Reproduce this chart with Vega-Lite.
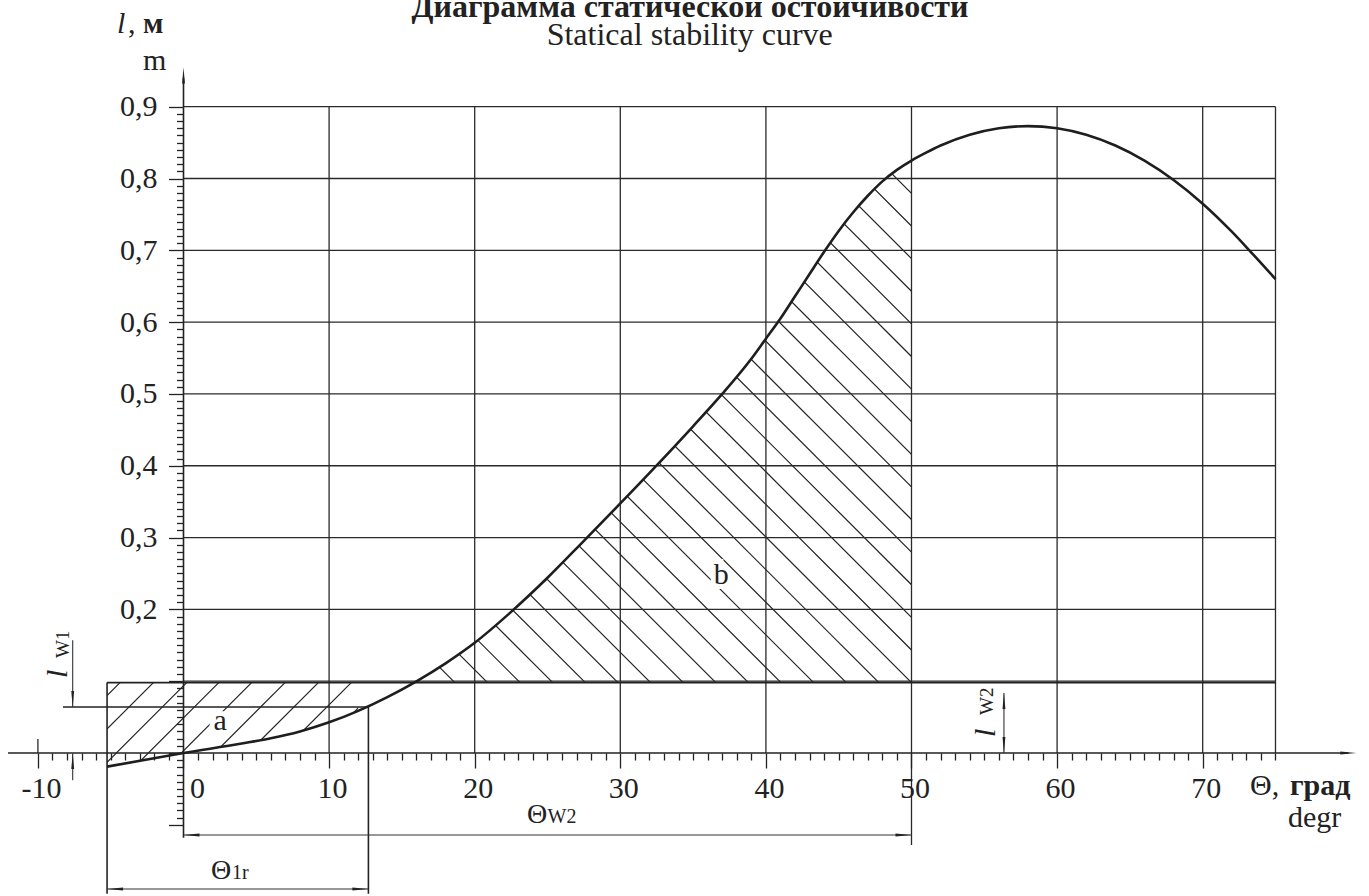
{
  "$schema": "https://vega.github.io/schema/vega-lite/v6.json",
  "width": 1369,
  "height": 896,
  "autosize": "none",
  "padding": 0,
  "background": "white",
  "config": {"view": {"stroke": null}, "font": "Liberation Serif", "axis": {"labelFont": "Liberation Serif"}},
  "datasets": {
    "curve": [
      {"x": -5.25, "y": -0.019}, {"x": 0, "y": 0}, {"x": 4, "y": 0.0132}, {"x": 6, "y": 0.0205},
      {"x": 8, "y": 0.03}, {"x": 10, "y": 0.0427}, {"x": 12, "y": 0.0587}, {"x": 14, "y": 0.0779},
      {"x": 16, "y": 0.0999}, {"x": 18, "y": 0.1249}, {"x": 20, "y": 0.1535}, {"x": 22.5, "y": 0.1965},
      {"x": 25, "y": 0.244}, {"x": 27.5, "y": 0.2955}, {"x": 30, "y": 0.3475}, {"x": 32.5, "y": 0.4005},
      {"x": 35, "y": 0.455}, {"x": 37, "y": 0.5}, {"x": 39, "y": 0.549}, {"x": 40, "y": 0.577},
      {"x": 41, "y": 0.605}, {"x": 42, "y": 0.636}, {"x": 43, "y": 0.667}, {"x": 44, "y": 0.698},
      {"x": 45, "y": 0.727}, {"x": 46, "y": 0.753}, {"x": 47, "y": 0.776}, {"x": 48, "y": 0.796},
      {"x": 49, "y": 0.812}, {"x": 50, "y": 0.825}, {"x": 51, "y": 0.836}, {"x": 52, "y": 0.846},
      {"x": 54, "y": 0.861}, {"x": 56, "y": 0.87}, {"x": 58, "y": 0.873}, {"x": 60, "y": 0.87},
      {"x": 62, "y": 0.861}, {"x": 64, "y": 0.846}, {"x": 66, "y": 0.825}, {"x": 68, "y": 0.798},
      {"x": 70, "y": 0.765}, {"x": 72, "y": 0.726}, {"x": 73.25, "y": 0.699}, {"x": 75, "y": 0.66}
    ],
    "hatchB": [
      {"x": 18.64, "y": 0.098, "x2": -1.09, "y2": 0.498},
      {"x": 20.88, "y": 0.098, "x2": 1.15, "y2": 0.498},
      {"x": 23.12, "y": 0.098, "x2": 3.39, "y2": 0.498},
      {"x": 25.36, "y": 0.098, "x2": 5.63, "y2": 0.498},
      {"x": 27.6, "y": 0.098, "x2": 7.87, "y2": 0.498},
      {"x": 29.84, "y": 0.098, "x2": 10.11, "y2": 0.498},
      {"x": 32.08, "y": 0.098, "x2": 12.35, "y2": 0.498},
      {"x": 34.32, "y": 0.098, "x2": 14.59, "y2": 0.498},
      {"x": 36.56, "y": 0.098, "x2": 16.83, "y2": 0.498},
      {"x": 38.8, "y": 0.098, "x2": 19.07, "y2": 0.498},
      {"x": 41.04, "y": 0.098, "x2": 21.31, "y2": 0.498},
      {"x": 43.28, "y": 0.098, "x2": 23.55, "y2": 0.498},
      {"x": 45.52, "y": 0.098, "x2": 25.79, "y2": 0.498},
      {"x": 47.76, "y": 0.098, "x2": 28.03, "y2": 0.498},
      {"x": 50, "y": 0.098, "x2": 30.27, "y2": 0.498},
      {"x": 50, "y": 0.1434, "x2": 30.27, "y2": 0.5434},
      {"x": 50, "y": 0.1888, "x2": 30.27, "y2": 0.5888},
      {"x": 50, "y": 0.2343, "x2": 30.27, "y2": 0.6343},
      {"x": 50, "y": 0.2797, "x2": 30.27, "y2": 0.6797},
      {"x": 50, "y": 0.3251, "x2": 30.27, "y2": 0.7251},
      {"x": 50, "y": 0.3705, "x2": 30.27, "y2": 0.7705},
      {"x": 50, "y": 0.4159, "x2": 30.27, "y2": 0.8159},
      {"x": 50, "y": 0.4614, "x2": 30.27, "y2": 0.8614},
      {"x": 50, "y": 0.5068, "x2": 30.27, "y2": 0.9068},
      {"x": 50, "y": 0.5522, "x2": 30.27, "y2": 0.9522},
      {"x": 50, "y": 0.5976, "x2": 30.27, "y2": 0.9976},
      {"x": 50, "y": 0.643, "x2": 30.27, "y2": 1.043},
      {"x": 50, "y": 0.6885, "x2": 30.27, "y2": 1.0885},
      {"x": 50, "y": 0.7339, "x2": 30.27, "y2": 1.1339},
      {"x": 50, "y": 0.7793, "x2": 30.27, "y2": 1.1793},
      {"x": 50, "y": 0.8247, "x2": 30.27, "y2": 1.2247}
    ],
    "hatchA": [
      {"x": -4.36, "y": 0.098, "x2": -16.69, "y2": -0.152},
      {"x": -2.07, "y": 0.098, "x2": -14.4, "y2": -0.152},
      {"x": 0.22, "y": 0.098, "x2": -12.11, "y2": -0.152},
      {"x": 2.42, "y": 0.098, "x2": -9.91, "y2": -0.152},
      {"x": 4.68, "y": 0.098, "x2": -7.65, "y2": -0.152},
      {"x": 6.97, "y": 0.098, "x2": -5.36, "y2": -0.152},
      {"x": 9.26, "y": 0.098, "x2": -3.07, "y2": -0.152},
      {"x": 11.52, "y": 0.098, "x2": -0.81, "y2": -0.152},
      {"x": 13.74, "y": 0.098, "x2": 1.41, "y2": -0.152}
    ],
    "maskB2": [{"x": -13, "y": 0.098, "x2": 15.9, "y2": 1.1}],
    "maskA2": [{"x": -13, "y": -0.3, "x2": -5.25, "y2": 0.098}],
    "grid": [
      {"x": 0, "y": 0.1, "x2": 75, "y2": 0.1}, {"x": 0, "y": 0.2, "x2": 75, "y2": 0.2},
      {"x": 0, "y": 0.3, "x2": 75, "y2": 0.3}, {"x": 0, "y": 0.4, "x2": 75, "y2": 0.4},
      {"x": 0, "y": 0.5, "x2": 75, "y2": 0.5}, {"x": 0, "y": 0.6, "x2": 75, "y2": 0.6},
      {"x": 0, "y": 0.7, "x2": 75, "y2": 0.7}, {"x": 0, "y": 0.8, "x2": 75, "y2": 0.8},
      {"x": 0, "y": 0.9, "x2": 75, "y2": 0.9},
      {"x": 10, "y": 0, "x2": 10, "y2": 0.9}, {"x": 20, "y": 0, "x2": 20, "y2": 0.9},
      {"x": 30, "y": 0, "x2": 30, "y2": 0.9}, {"x": 40, "y": 0, "x2": 40, "y2": 0.9},
      {"x": 50, "y": -0.128, "x2": 50, "y2": 0.9}, {"x": 60, "y": 0, "x2": 60, "y2": 0.9},
      {"x": 70, "y": 0, "x2": 70, "y2": 0.9}, {"x": 75, "y": 0, "x2": 75, "y2": 0.9},
      {"x": -10, "y": 0, "x2": -10, "y2": 0.0195}
    ],
    "frame": [
      {"x": -12.05, "y": 0, "x2": 80, "y2": 0},
      {"x": 0, "y": -0.118, "x2": 0, "y2": 0.94},
      {"x": -5.25, "y": 0.098, "x2": 75, "y2": 0.098},
      {"x": -5.25, "y": -0.196, "x2": -5.25, "y2": 0.098},
      {"x": 12.7, "y": -0.196, "x2": 12.7, "y2": 0.064},
      {"x": -8.28, "y": 0.064, "x2": 12.7, "y2": 0.064}
    ],
    "dims": [
      {"x": 0, "y": -0.1142, "x2": 50, "y2": -0.1142},
      {"x": -5.25, "y": -0.1894, "x2": 12.7, "y2": -0.1894},
      {"x": -7.61, "y": 0.064, "x2": -7.61, "y2": 0.157},
      {"x": -7.61, "y": -0.038, "x2": -7.61, "y2": 0},
      {"x": 56.35, "y": 0, "x2": 56.35, "y2": 0.0836}
    ],
    "arrows": [
      {"x": 80.0, "y": 0, "dir": "right"},
      {"x": 0, "y": 0.9435, "dir": "up"},
      {"x": 0.549, "y": -0.1142, "dir": "left"},
      {"x": 49.45, "y": -0.1142, "dir": "right"},
      {"x": -4.7, "y": -0.1894, "dir": "left"},
      {"x": 12.15, "y": -0.1894, "dir": "right"},
      {"x": -7.61, "y": 0.0751, "dir": "down"},
      {"x": -7.61, "y": -0.0111, "dir": "up"},
      {"x": 56.35, "y": 0.0725, "dir": "up"},
      {"x": 56.35, "y": 0.0111, "dir": "down"}
    ],
    "titleBold": [{"x": 34.79, "y": 1.0249, "label": "Диаграмма статической остойчивости"}],
    "subtitle": [{"x": 34.77, "y": 0.9859, "label": "Statical stability curve"}],
    "textCenter": [
      {"x": 24.28, "y": -0.0975, "label": "Θ"},
      {"x": 2.58, "y": -0.1755, "label": "Θ"}
    ],
    "textLeft": [
      {"x": -3.81, "y": 1.0022, "label": ","},
      {"x": -2.78, "y": 0.9511, "label": "m"},
      {"x": 73.25, "y": -0.0585, "label": "Θ,"},
      {"x": 75.86, "y": -0.103, "label": "degr"}
    ],
    "textBold": [
      {"x": -2.78, "y": 1.0022, "label": "м"},
      {"x": 75.99, "y": -0.0585, "label": "град"}
    ],
    "textItalic": [{"x": -4.57, "y": 1.0022, "label": "l"}],
    "textSub": [
      {"x": 25.0, "y": -0.0975, "label": "W2"},
      {"x": 3.33, "y": -0.1755, "label": "1r"}
    ],
    "areaLabels": [
      {"x": 2.51, "y": 0.032, "label": "a"},
      {"x": 36.93, "y": 0.235, "label": "b"}
    ],
    "rotItalic": [
      {"x": -8.0, "y": 0.1044, "label": "l"},
      {"x": 55.73, "y": 0.0223, "label": "l"}
    ],
    "rotSub": [
      {"x": -7.85, "y": 0.1323, "label": "W1"},
      {"x": 55.6, "y": 0.0529, "label": "W2"}
    ]
  },
  "encoding": {
    "x": {
      "field": "x",
      "type": "quantitative",
      "scale": {"domain": [-12.603, 81.422], "nice": false, "zero": false},
      "axis": {
        "orient": "bottom",
        "offset": -143,
        "domain": false,
        "grid": false,
        "title": null,
        "zindex": 1,
        "values": [-10,-9,-8,-7,-6,-5,-4,-3,-2,-1,0,1,2,3,4,5,6,7,8,9,10,11,12,13,14,15,16,17,18,19,20,21,22,23,24,25,26,27,28,29,30,31,32,33,34,35,36,37,38,39,40,41,42,43,44,45,46,47,48,49,50,51,52,53,54,55,56,57,58,59,60,61,62,63,64,65,66,67,68,69,70,71,72,73,74,75],
        "tickColor": "#222",
        "tickWidth": 1.3,
        "tickSize": {"condition": {"test": "datum.value % 10 === 0", "value": 15}, "value": 7},
        "labelExpr": "datum.value % 10 === 0 && datum.value < 75 ? '' + datum.value : ''",
        "labelFont": "Liberation Serif",
        "labelFontSize": 30,
        "labelColor": "#222",
        "labelBaseline": "alphabetic",
        "labelPadding": 29,
        "labelAlign": {"condition": {"test": "datum.value === 0", "value": "left"}, "value": "center"},
        "labelOffset": {"condition": {"test": "datum.value === 0", "value": 6}, "value": 3},
        "labelOverlap": false,
        "labelBound": false,
        "labelFlush": false
      }
    },
    "y": {
      "field": "y",
      "type": "quantitative",
      "scale": {"domain": [-0.19914, 1.0486], "nice": false, "zero": false},
      "axis": {
        "orient": "left",
        "offset": -183.5,
        "domain": false,
        "grid": false,
        "title": null,
        "zindex": 1,
        "values": [-0.1,-0.09,-0.08,-0.07,-0.06,-0.05,-0.04,-0.03,-0.02,-0.01,0,0.01,0.02,0.03,0.04,0.05,0.06,0.07,0.08,0.09,0.1,0.11,0.12,0.13,0.14,0.15,0.16,0.17,0.18,0.19,0.2,0.21,0.22,0.23,0.24,0.25,0.26,0.27,0.28,0.29,0.3,0.31,0.32,0.33,0.34,0.35,0.36,0.37,0.38,0.39,0.4,0.41,0.42,0.43,0.44,0.45,0.46,0.47,0.48,0.49,0.5,0.51,0.52,0.53,0.54,0.55,0.56,0.57,0.58,0.59,0.6,0.61,0.62,0.63,0.64,0.65,0.66,0.67,0.68,0.69,0.7,0.71,0.72,0.73,0.74,0.75,0.76,0.77,0.78,0.79,0.8,0.81,0.82,0.83,0.84,0.85,0.86,0.87,0.88,0.89,0.9],
        "tickColor": "#222",
        "tickWidth": 1.3,
        "tickSize": {"condition": {"test": "abs(datum.value * 10 - round(datum.value * 10)) < 0.001", "value": 15}, "value": 7},
        "labelExpr": "datum.value > 0.15 && abs(datum.value * 10 - round(datum.value * 10)) < 0.001 ? replace(format(datum.value, '.1f'), '.', ',') : ''",
        "labelFont": "Liberation Serif",
        "labelFontSize": 30,
        "labelColor": "#222",
        "labelPadding": 11.5,
        "labelOverlap": false,
        "labelBound": false,
        "labelFlush": false
      }
    }
  },
  "layer": [
    {
      "data": {"name": "hatchA"},
      "mark": {"type": "rule", "color": "#222", "strokeWidth": 1.2},
      "encoding": {"x2": {"field": "x2"}, "y2": {"field": "y2"}}
    },
    {
      "data": {"name": "curve"},
      "transform": [{"filter": "datum.x <= 18"}],
      "mark": {"type": "area", "interpolate": "monotone", "color": "white", "opacity": 1},
      "encoding": {"y2": {"datum": -0.3}}
    },
    {
      "data": {"name": "maskA2"},
      "mark": {"type": "rect", "color": "white", "opacity": 1},
      "encoding": {"x2": {"field": "x2"}, "y2": {"field": "y2"}}
    },
    {
      "data": {"name": "hatchB"},
      "mark": {"type": "rule", "color": "#222", "strokeWidth": 1.2},
      "encoding": {"x2": {"field": "x2"}, "y2": {"field": "y2"}}
    },
    {
      "data": {"name": "curve"},
      "transform": [{"filter": "datum.x >= 12"}],
      "mark": {"type": "area", "interpolate": "monotone", "color": "white", "opacity": 1},
      "encoding": {"y2": {"datum": 1.1}}
    },
    {
      "data": {"name": "maskB2"},
      "mark": {"type": "rect", "color": "white", "opacity": 1},
      "encoding": {"x2": {"field": "x2"}, "y2": {"field": "y2"}}
    },
    {
      "data": {"name": "grid"},
      "mark": {"type": "rule", "color": "#2a2a2a", "strokeWidth": 1.3},
      "encoding": {"x2": {"field": "x2"}, "y2": {"field": "y2"}}
    },
    {
      "data": {"name": "frame"},
      "mark": {"type": "rule", "color": "#222", "strokeWidth": 1.6},
      "encoding": {"x2": {"field": "x2"}, "y2": {"field": "y2"}}
    },
    {
      "data": {"name": "dims"},
      "mark": {"type": "rule", "color": "#333", "strokeWidth": 1.1},
      "encoding": {"x2": {"field": "x2"}, "y2": {"field": "y2"}}
    },
    {
      "data": {"name": "curve"},
      "mark": {"type": "line", "interpolate": "monotone", "color": "#1e1e1e", "strokeWidth": 2.6}
    },
    {
      "data": {"name": "arrows"},
      "mark": {"type": "point", "filled": true, "color": "#222", "opacity": 1, "size": 256, "strokeWidth": 0},
      "encoding": {
        "shape": {
          "field": "dir",
          "type": "nominal",
          "legend": null,
          "scale": {
            "domain": ["right", "left", "up", "down"],
            "range": ["M1,0L-1,-0.18L-1,0.18Z", "M-1,0L1,-0.18L1,0.18Z", "M0,-1L-0.18,1L0.18,1Z", "M0,1L-0.18,-1L0.18,-1Z"]
          }
        }
      }
    },
    {
      "data": {"name": "titleBold"},
      "mark": {"type": "text", "font": "Liberation Serif", "fontSize": 32, "fontWeight": "bold", "color": "#222", "align": "center", "baseline": "alphabetic"},
      "encoding": {"text": {"field": "label"}}
    },
    {
      "data": {"name": "subtitle"},
      "mark": {"type": "text", "font": "Liberation Serif", "fontSize": 32, "color": "#222", "align": "center", "baseline": "alphabetic"},
      "encoding": {"text": {"field": "label"}}
    },
    {
      "data": {"name": "textCenter"},
      "mark": {"type": "text", "font": "Liberation Serif", "fontSize": 28, "color": "#222", "align": "center", "baseline": "alphabetic"},
      "encoding": {"text": {"field": "label"}}
    },
    {
      "data": {"name": "textLeft"},
      "mark": {"type": "text", "font": "Liberation Serif", "fontSize": 30, "color": "#222", "align": "left", "baseline": "alphabetic"},
      "encoding": {"text": {"field": "label"}}
    },
    {
      "data": {"name": "textBold"},
      "mark": {"type": "text", "font": "Liberation Serif", "fontSize": 30, "fontWeight": "bold", "color": "#222", "align": "left", "baseline": "alphabetic"},
      "encoding": {"text": {"field": "label"}}
    },
    {
      "data": {"name": "textItalic"},
      "mark": {"type": "text", "font": "Liberation Serif", "fontSize": 30, "fontStyle": "italic", "color": "#222", "align": "left", "baseline": "alphabetic"},
      "encoding": {"text": {"field": "label"}}
    },
    {
      "data": {"name": "textSub"},
      "mark": {"type": "text", "font": "Liberation Serif", "fontSize": 20, "color": "#222", "align": "left", "baseline": "alphabetic"},
      "encoding": {"text": {"field": "label"}}
    },
    {
      "data": {"name": "areaLabels"},
      "mark": {"type": "text", "font": "Liberation Serif", "fontSize": 30, "color": "white", "stroke": "white", "strokeWidth": 10, "align": "center", "baseline": "alphabetic"},
      "encoding": {"text": {"field": "label"}}
    },
    {
      "data": {"name": "areaLabels"},
      "mark": {"type": "text", "font": "Liberation Serif", "fontSize": 30, "color": "#222", "align": "center", "baseline": "alphabetic"},
      "encoding": {"text": {"field": "label"}}
    },
    {
      "data": {"name": "rotItalic"},
      "mark": {"type": "text", "font": "Liberation Serif", "fontSize": 30, "fontStyle": "italic", "color": "#222", "align": "left", "baseline": "alphabetic", "angle": 270},
      "encoding": {"text": {"field": "label"}}
    },
    {
      "data": {"name": "rotSub"},
      "mark": {"type": "text", "font": "Liberation Serif", "fontSize": 19, "color": "#222", "align": "left", "baseline": "alphabetic", "angle": 270},
      "encoding": {"text": {"field": "label"}}
    }
  ]
}
